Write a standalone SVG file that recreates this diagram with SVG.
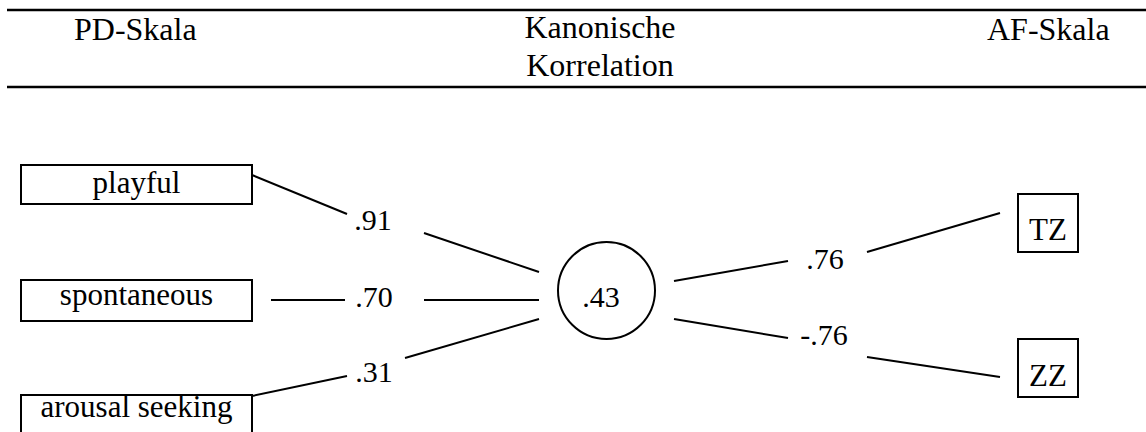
<svg xmlns="http://www.w3.org/2000/svg" width="1146" height="432" viewBox="0 0 1146 432">
  <style>
    text { font-family: 'Liberation Serif', 'DejaVu Serif', serif; fill: #000; }
    .hd { font-size: 32px; }
    .lbl { font-size: 31px; text-anchor: middle; }
    .num { font-size: 30px; text-anchor: middle; }
    .box { fill: #fff; stroke: #000; stroke-width: 2; }
    .rule { stroke: #000; stroke-width: 2.5; }
    .edge { stroke: #000; stroke-width: 2; fill: none; }
  </style>

  <!-- table header -->
  <g id="header">
    <line class="rule" x1="7" y1="10" x2="1146" y2="10"/>
    <line class="rule" x1="7" y1="87" x2="1146" y2="87"/>
    <text class="hd" x="74" y="40">PD-Skala</text>
    <text class="hd" x="600" y="38" text-anchor="middle">Kanonische</text>
    <text class="hd" x="600" y="76" text-anchor="middle">Korrelation</text>
    <text class="hd" x="987" y="40">AF-Skala</text>
  </g>

  <!-- connectors with their loadings -->
  <g id="connectors">
    <line class="edge" x1="252" y1="175" x2="347" y2="214"/>
    <line class="edge" x1="424" y1="233" x2="539" y2="272"/>
    <line class="edge" x1="271" y1="300" x2="345" y2="300"/>
    <line class="edge" x1="424" y1="300" x2="539" y2="300"/>
    <line class="edge" x1="252" y1="396" x2="347" y2="376"/>
    <line class="edge" x1="405" y1="358" x2="539" y2="319"/>
    <line class="edge" x1="674" y1="281" x2="788" y2="261"/>
    <line class="edge" x1="867" y1="252" x2="1000" y2="213"/>
    <line class="edge" x1="674" y1="319" x2="788" y2="338"/>
    <line class="edge" x1="867" y1="357" x2="1000" y2="377"/>
    <text class="num" x="373" y="230">.91</text>
    <text class="num" x="374" y="307">.70</text>
    <text class="num" x="374" y="382">.31</text>
    <text class="num" x="825" y="269">.76</text>
    <text class="num" x="824" y="345">-.76</text>
  </g>

  <g id="playful">
    <rect class="box" x="21" y="165" width="231" height="39"/>
    <text class="lbl" x="136.5" y="193">playful</text>
  </g>
  <g id="spontaneous">
    <rect class="box" x="21" y="280" width="231" height="41"/>
    <text class="lbl" x="136.5" y="305">spontaneous</text>
  </g>
  <g id="arousal-seeking">
    <rect class="box" x="21" y="395" width="231" height="50"/>
    <text class="lbl" x="136.5" y="417">arousal seeking</text>
  </g>

  <g id="canonical">
    <circle class="box" cx="606.5" cy="290.5" r="48.5"/>
    <text class="num" x="601" y="307">.43</text>
  </g>

  <g id="TZ">
    <rect class="box" x="1018" y="194" width="60" height="58"/>
    <text class="lbl" x="1048" y="240">TZ</text>
  </g>
  <g id="ZZ">
    <rect class="box" x="1018" y="339" width="60" height="58"/>
    <text class="lbl" x="1048" y="386">ZZ</text>
  </g>
</svg>
